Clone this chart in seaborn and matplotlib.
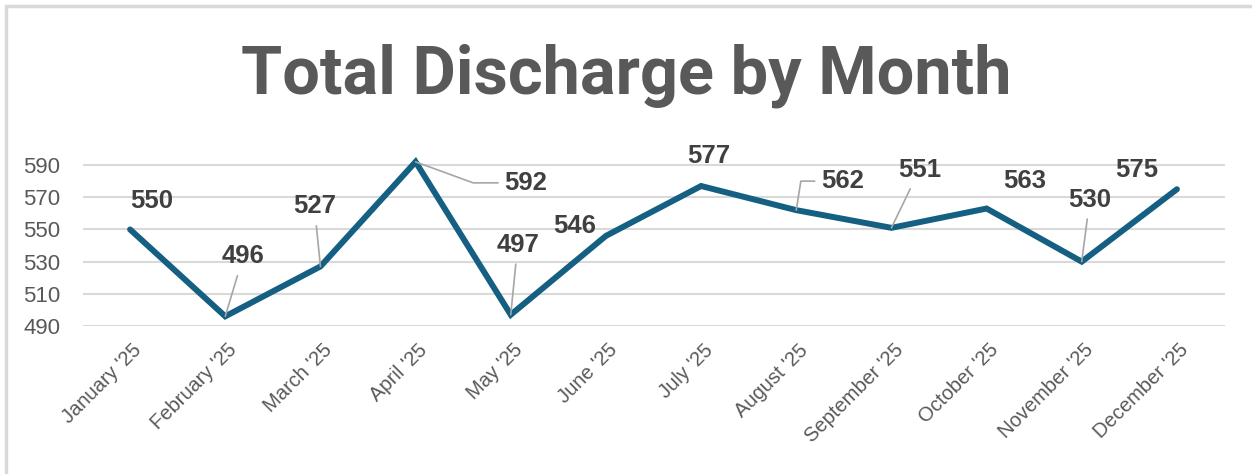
import matplotlib
matplotlib.use('Agg')
import matplotlib.pyplot as plt
import matplotlib.transforms as mtransforms
import seaborn as sns
import pandas as pd
from matplotlib.patches import Rectangle

months = ["January '25", "February '25", "March '25", "April '25", "May '25", "June '25",
          "July '25", "August '25", "September '25", "October '25", "November '25", "December '25"]
discharge = [550, 496, 527, 592, 497, 546, 577, 562, 551, 563, 530, 575]
y_ticks = [490, 510, 530, 550, 570, 590]

# label offsets in pixels (dx, dy) and whether a leader line is drawn
label_offsets = [(22, 28), (18, 60), (-6, 60), (110, -21), (7, 70), (-31, 10),
                 (8, 30), (46, 29), (28, 58), (38, 28), (8, 62), (-40, 19)]
leaders = [None, 'line', 'line', 'elbow', 'line', None,
           None, 'elbow', 'line', None, 'line', None]

df = pd.DataFrame({'month': months, 'discharge': discharge})

sns.set_style('white')
plt.rcParams['font.family'] = ['Liberation Sans', 'DejaVu Sans']

fig = plt.figure(figsize=(12.52, 4.74), dpi=100)
ax = fig.add_axes([82.5 / 1252, 1 - 326 / 474, (1224.5 - 82.5) / 1252, (326 - 149) / 474])

sns.lineplot(data=df, x='month', y='discharge', ax=ax, color='#156082', linewidth=4.3,
             sort=False, clip_on=False, solid_capstyle='round', solid_joinstyle='miter')

ax.set_xlim(-0.5, len(months) - 0.5)
ax.set_ylim(490, 600)
ax.set_yticks(y_ticks)
ax.yaxis.grid(True, color='#d9d9d9', linewidth=1.5)
ax.set_axisbelow(True)
for s in ax.spines.values():
    s.set_visible(False)
ax.set_xlabel('')
ax.set_ylabel('')
ax.tick_params(axis='y', labelsize=16, colors='#595959', length=0, pad=16)
ax.tick_params(axis='x', labelsize=14.5, colors='#595959', length=0, pad=6)
ax.set_xticks(range(len(months)))
ax.set_xticklabels(months, rotation=45, ha='right', rotation_mode='anchor')
shift = mtransforms.ScaledTranslation(2 / 100, -6 / 100, fig.dpi_scale_trans)
for lab in ax.get_xticklabels():
    lab.set_transform(lab.get_transform() + shift)

for i, (v, (dx, dy), ld) in enumerate(zip(discharge, label_offsets, leaders)):
    kw = {}
    if ld == 'line':
        kw['arrowprops'] = dict(arrowstyle='-', color='#a6a6a6', lw=1.2, shrinkA=3, shrinkB=0)
    elif ld == 'elbow':
        kw['arrowprops'] = dict(arrowstyle='-', color='#a6a6a6', lw=1.2, shrinkA=2, shrinkB=0,
                                relpos=(0, 0.5),
                                connectionstyle='angle,angleA=0,angleB=%d,rad=0' % (-20 if i == 3 else 81))
    ax.annotate(str(v), xy=(i, v), xytext=(dx, dy), textcoords='offset pixels',
                ha='center', va='center', fontsize=18.5, fontweight='bold', color='#404040',
                annotation_clip=False, **kw)

fig.text(0.5, 1 - 76 / 474, 'Total Discharge by Month', ha='center', va='center',
         fontsize=48, fontweight='bold', color='#595959', family=['Roboto', 'DejaVu Sans'])

fig.patches.append(Rectangle((5.5 / 1252, -0.1), 1.2, 1.1 - 6 / 474, transform=fig.transFigure,
                             fill=False, edgecolor='#d9d9d9', linewidth=2.5, figure=fig))

fig.savefig('out.png', dpi=100)
